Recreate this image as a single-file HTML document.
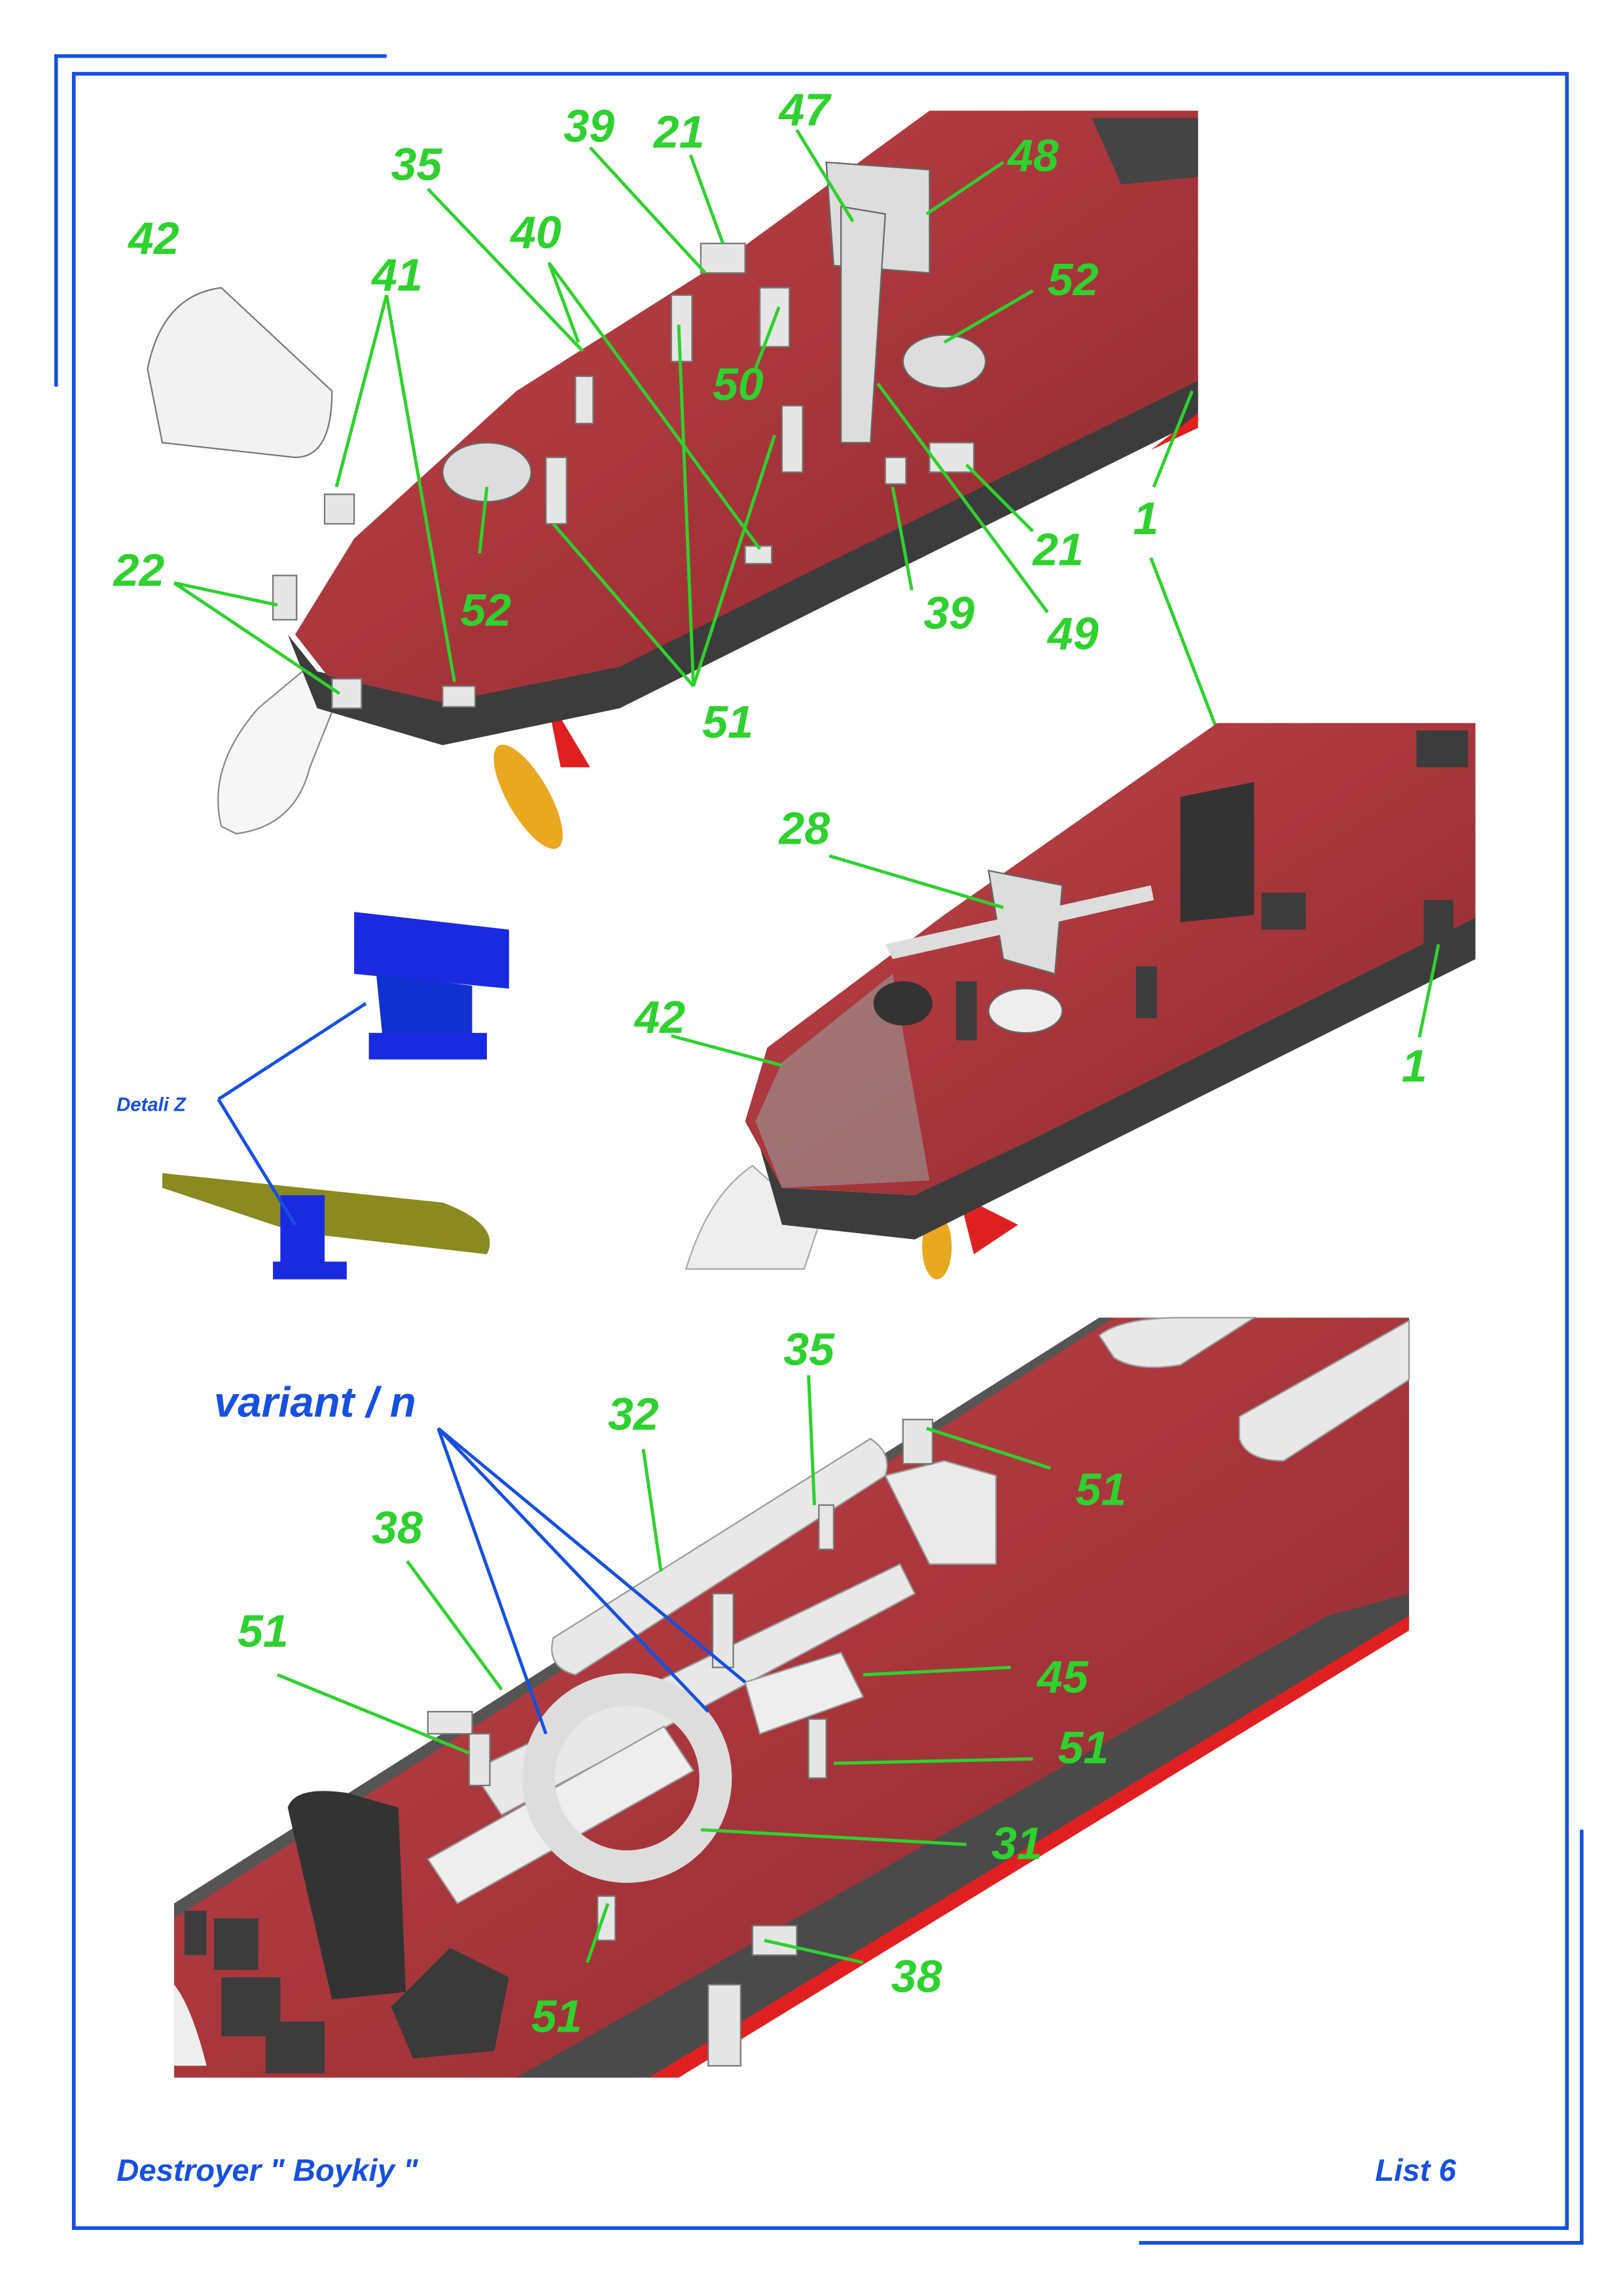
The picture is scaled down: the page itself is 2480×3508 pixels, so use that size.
<!DOCTYPE html>
<html><head><meta charset="utf-8"><style>
html,body{margin:0;padding:0;background:#fff}
svg{display:block}
.g{fill:#2ed12e;font-family:"Liberation Sans",sans-serif;font-weight:bold;font-style:italic;font-size:31px}
.gl{stroke:#2ed12e;stroke-width:2.2;fill:none}
.bl{stroke:#1550e0;stroke-width:2.2;fill:none}
.b{fill:#1550e0;font-family:"Liberation Sans",sans-serif;font-weight:bold;font-style:italic}
.part{fill:#e6e6e6;stroke:#777;stroke-width:1}
.dk{fill:#3c3c3c}
</style></head><body>
<svg width="2480" height="3508" viewBox="0 0 1100 1556" xmlns="http://www.w3.org/2000/svg">
<defs>
<linearGradient id="red" x1="0" y1="0" x2="1" y2="1"><stop offset="0" stop-color="#c0464a"/><stop offset="0.5" stop-color="#a8363b"/><stop offset="1" stop-color="#8e2a2f"/></linearGradient>
</defs>
<rect width="1100" height="1556" fill="#fff"/>
<!-- frame -->
<g stroke="#1550e0" stroke-width="2.5" fill="none">
<path d="M38 262 V38 H262"/>
<rect x="50" y="50" width="1012" height="1460"/>
<path d="M1072 1240 V1520 H772"/>
</g>

<!-- PANEL 1 -->
<path d="M150 560 Q140 520 175 480 L205 455 L230 470 L210 520 Q200 560 160 565 Z" fill="#f6f6f6" stroke="#888"/>
<path d="M370 470 L400 520 L380 520 Z" fill="#e02020"/>
<ellipse cx="358" cy="540" rx="14" ry="40" fill="#e8a820" transform="rotate(-30 358 540)"/>
<path d="M195 430 L215 480 L300 505 L420 480 L560 410 L812 285 L812 255 L560 380 L420 450 L300 475 L215 455 Z" class="dk"/>
<path d="M630 75 L812 75 L812 258 L560 382 L420 452 L300 476 L222 458 L200 430 L240 365 L350 265 L500 170 Z" fill="url(#red)"/>
<path d="M812 280 L812 290 L780 305 Z" fill="#e02020"/>
<path d="M740 80 L812 80 L812 120 L760 125 Z" fill="#444"/>
<path d="M560 110 L630 115 L630 185 L565 180 Z" fill="#ddd" stroke="#666"/>
<path d="M570 140 L600 145 L590 300 L570 300 Z" fill="#ddd" stroke="#666"/>
<ellipse cx="640" cy="245" rx="28" ry="18" fill="#ddd" stroke="#666"/>
<ellipse cx="330" cy="320" rx="30" ry="20" fill="#ddd" stroke="#666"/>
<path d="M100 250 Q110 200 150 195 L225 265 Q225 310 200 310 L110 300 Z" fill="#f2f2f2" stroke="#777"/>
<g class="part"><rect x="390" y="255" width="12" height="32"/><rect x="455" y="200" width="14" height="45"/><rect x="370" y="310" width="14" height="45"/><rect x="530" y="275" width="14" height="45"/><rect x="515" y="195" width="20" height="40"/><rect x="185" y="390" width="16" height="30"/><rect x="225" y="460" width="20" height="20"/><rect x="220" y="335" width="20" height="20"/><rect x="300" y="465" width="22" height="14"/><rect x="600" y="310" width="14" height="18"/><rect x="630" y="300" width="30" height="20"/><rect x="505" y="370" width="18" height="12"/><rect x="475" y="165" width="30" height="20"/></g>
<g class="gl">
<path d="M290 128 L395 238"/><path d="M400 100 L478 185"/><path d="M468 105 L490 165"/><path d="M372 178 L392 232"/><path d="M372 178 L515 372"/>
<path d="M262 200 L228 330"/><path d="M262 200 L308 462"/><path d="M118 395 L188 410"/><path d="M118 395 L230 470"/>
<path d="M540 88 L578 150"/><path d="M680 110 L628 145"/><path d="M700 197 L640 232"/><path d="M512 250 L528 208"/>
<path d="M325 375 L330 330"/><path d="M470 465 L375 355"/><path d="M470 465 L460 220"/><path d="M470 465 L525 295"/>
<path d="M700 360 L655 315"/><path d="M618 400 L605 330"/><path d="M710 415 L595 260"/>
<path d="M782 330 L808 265"/><path d="M780 378 L825 495"/>
</g>
<text class="g" x="87" y="172">42</text><text class="g" x="265" y="122">35</text>
<text class="g" x="382" y="96">39</text><text class="g" x="443" y="100">21</text><text class="g" x="528" y="85">47</text>
<text class="g" x="683" y="116">48</text><text class="g" x="346" y="168">40</text><text class="g" x="252" y="197">41</text>
<text class="g" x="710" y="200">52</text><text class="g" x="483" y="271">50</text><text class="g" x="77" y="397">22</text>
<text class="g" x="312" y="424">52</text><text class="g" x="700" y="383">21</text><text class="g" x="768" y="362">1</text>
<text class="g" x="626" y="426">39</text><text class="g" x="710" y="440">49</text><text class="g" x="476" y="500">51</text>

<!-- Detail Z -->
<path d="M240 618 L345 630 L345 670 L240 660 Z" fill="#1a2ae0"/>
<path d="M255 660 L320 668 L320 715 L260 710 Z" fill="#1030d0"/>
<rect x="250" y="700" width="80" height="18" fill="#1a2ae0"/>
<path d="M110 795 L300 815 Q340 830 330 850 L200 835 L110 805 Z" fill="#8a8a20"/>
<rect x="190" y="810" width="30" height="50" fill="#1a2ae0"/>
<rect x="185" y="855" width="50" height="12" fill="#1a2ae0"/>
<g class="bl"><path d="M148 745 L248 680"/><path d="M148 745 L200 830"/></g>
<text class="b" x="79" y="753" font-size="13">Detali Z</text>

<!-- PANEL 2 -->
<path d="M465 860 Q480 810 510 790 L555 830 L545 860 Z" fill="#eee" stroke="#aaa"/>
<path d="M650 810 L690 830 L660 850 Z" fill="#e02020"/>
<ellipse cx="635" cy="845" rx="10" ry="22" fill="#e8a820"/>
<path d="M510 760 L530 830 L620 840 L700 800 L1000 650 L1000 620 L700 770 L620 810 L530 805 Z" class="dk"/>
<path d="M825 490 L1000 490 L1000 622 L700 772 L620 810 L530 805 L505 760 L520 710 L640 620 Z" fill="url(#red)"/>
<path d="M512 760 L530 720 L605 660 L630 800 L530 805 Z" fill="#9a9a9a" opacity="0.6"/>
<path d="M670 590 L720 600 L715 660 L680 650 Z" fill="#ddd" stroke="#666"/>
<ellipse cx="695" cy="685" rx="25" ry="15" fill="#eee" stroke="#666"/>
<path d="M600 640 L780 600 L782 610 L605 650 Z" fill="#ddd"/>
<path d="M800 540 L850 530 L850 620 L800 625 Z" fill="#333"/>
<ellipse cx="612" cy="680" rx="20" ry="15" fill="#333"/>
<g class="dk"><rect x="770" y="655" width="14" height="35"/><rect x="648" y="665" width="14" height="40"/><rect x="855" y="605" width="30" height="25"/><rect x="960" y="495" width="35" height="25"/><rect x="965" y="610" width="20" height="40"/></g>
<g class="gl"><path d="M562 580 L680 615"/><path d="M455 702 L530 722"/><path d="M962 703 L975 640"/></g>
<text class="g" x="528" y="572">28</text><text class="g" x="430" y="700">42</text><text class="g" x="950" y="733">1</text>

<!-- PANEL 3 -->
<path d="M118 1290 L745 893 L955 893 L955 1100 L430 1408 L118 1408 Z" fill="url(#red)"/>
<path d="M955 1080 L955 1100 L440 1408 L350 1408 L900 1095 Z" fill="#4a4a4a"/>
<path d="M955 1095 L955 1105 L460 1408 L440 1408 Z" fill="#e02020"/>
<path d="M118 1290 L745 893 L755 893 L118 1300 Z" fill="#555"/>
<path d="M745 905 Q760 893 800 893 L850 893 L800 925 Q770 930 755 920 Z" fill="#e8e8e8" stroke="#999"/>
<path d="M840 960 L955 895 L955 935 L870 990 Q845 990 840 975 Z" fill="#e8e8e8" stroke="#999"/>
<path d="M375 1110 L590 975 Q605 985 600 1000 L390 1135 Q370 1130 375 1110 Z" fill="#e8e8e8" stroke="#999"/>
<path d="M600 1000 L640 990 L675 1000 L675 1060 L630 1060 Z" fill="#eaeaea" stroke="#999"/>
<path d="M320 1200 L610 1060 L620 1080 L340 1230 Z" fill="#e8e8e8" stroke="#999"/>
<path d="M290 1260 L450 1170 L470 1200 L310 1290 Z" fill="#eee" stroke="#999"/>
<circle cx="425" cy="1205" r="60" fill="none" stroke="#ddd" stroke-width="22"/>
<path d="M505 1140 L570 1120 L585 1150 L515 1175 Z" fill="#eee" stroke="#999"/>
<g class="part"><rect x="555" y="1020" width="10" height="30"/><rect x="548" y="1165" width="12" height="40"/><rect x="318" y="1175" width="14" height="35"/><rect x="405" y="1285" width="12" height="30"/><rect x="290" y="1160" width="30" height="15"/><rect x="510" y="1305" width="30" height="20"/><rect x="480" y="1345" width="22" height="55"/><rect x="612" y="962" width="20" height="30"/><rect x="483" y="1080" width="14" height="50"/></g>
<path d="M195 1225 Q200 1210 235 1215 L270 1225 L275 1350 L225 1355 Z" fill="#333"/>
<path d="M265 1360 L305 1320 L345 1340 L335 1390 L280 1395 Z" fill="#3a3a3a"/>
<g class="dk"><rect x="145" y="1300" width="30" height="35"/><rect x="150" y="1340" width="40" height="40"/><rect x="180" y="1370" width="40" height="35"/><rect x="125" y="1295" width="15" height="30"/></g>
<path d="M118 1345 Q130 1360 140 1400 L118 1400 Z" fill="#eee"/>
<g class="gl">
<path d="M548 932 L552 1020"/><path d="M436 982 L448 1065"/><path d="M276 1058 L340 1145"/><path d="M188 1135 L318 1188"/>
<path d="M712 995 L628 968"/><path d="M685 1130 L585 1135"/><path d="M700 1192 L565 1195"/>
<path d="M655 1250 L475 1240"/><path d="M412 1290 L398 1330"/><path d="M585 1330 L518 1315"/>
</g>
<g class="bl"><path d="M297 968 L370 1175"/><path d="M297 968 L480 1160"/><path d="M297 968 L505 1140"/></g>
<text class="b" x="145" y="960" font-size="29">variant / n</text>
<text class="g" x="531" y="925">35</text><text class="g" x="412" y="969">32</text><text class="g" x="729" y="1020">51</text>
<text class="g" x="252" y="1046">38</text><text class="g" x="161" y="1116">51</text><text class="g" x="703" y="1147">45</text>
<text class="g" x="717" y="1195">51</text><text class="g" x="672" y="1260">31</text><text class="g" x="604" y="1350">38</text>
<text class="g" x="360" y="1377">51</text>

<!-- footer -->
<text class="b" x="79" y="1478" font-size="21">Destroyer  " Boykiy "</text>
<text class="b" x="932" y="1478" font-size="21">List 6</text>
</svg>
</body></html>
